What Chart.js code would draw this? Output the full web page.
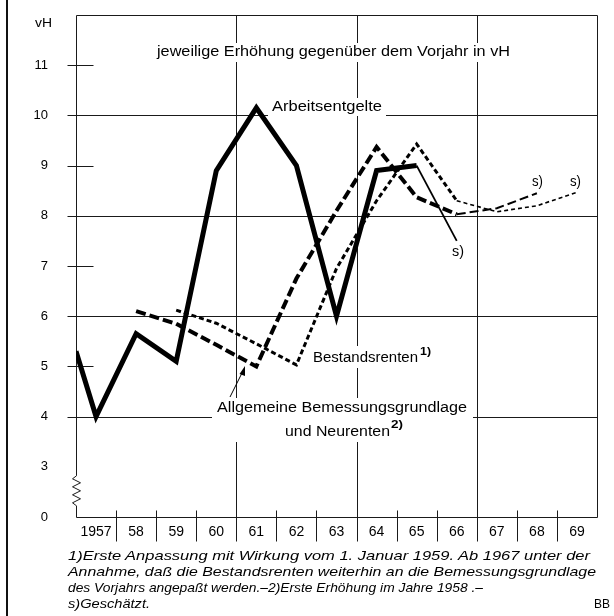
<!DOCTYPE html>
<html><head><meta charset="utf-8">
<script src="https://cdn.jsdelivr.net/npm/chart.js@4.4.1/dist/chart.umd.min.js"></script>
<style>
html,body{margin:0;padding:0;background:#fff;}
#wrap{position:relative;width:614px;height:616px;overflow:hidden;background:#fff;}
#c{position:absolute;left:0;top:0;}
#edge{position:absolute;left:6px;top:0;width:2px;height:616px;background:#111;}
.fn{position:absolute;left:68px;white-space:nowrap;font:italic 13px "Liberation Sans",Arial,sans-serif;line-height:16px;color:#000;transform-origin:0 50%;}
#bb{position:absolute;left:594px;top:597px;font:12px "Liberation Sans",Arial,sans-serif;color:#000;}
</style></head><body>
<div id="wrap">
<canvas id="c" width="614" height="616"></canvas>
<div id="edge"></div>
<div class="fn" data-w="522" style="top:548px">1)Erste Anpassung mit Wirkung vom 1. Januar 1959. Ab 1967 unter der</div>
<div class="fn" data-w="528" style="top:564px">Annahme, daß die Bestandsrenten weiterhin an die Bemessungsgrundlage</div>
<div class="fn" data-w="415" style="top:580px">des Vorjahrs angepaßt werden.–2)Erste Erhöhung im Jahre 1958 .–</div>
<div class="fn" data-w="82" style="top:596px">s)Geschätzt.</div>
<div id="bb">BB</div>
</div>
<script>
// ---- data ----
const years = [1957,1958,1959,1960,1961,1962,1963,1964,1965,1966,1967,1968,1969];
const yearLabels = ['1957','58','59','60','61','62','63','64','65','66','67','68','69'];
const arbeitX = [1956.5,1957,1958,1959,1960,1961,1962,1963,1964,1965,1966];
const arbeitsentgelte = [5.3,4.0,5.65,5.1,8.9,10.15,9.0,6.0,8.9,9.0,7.5];
const bemessungX = [1958,1959,1960,1961,1962,1963,1964,1965,1966,1967,1968];
const bemessung = [6.1,5.85,5.43,5.0,6.75,8.1,9.37,8.37,8.03,8.15,8.45];
const bestandX = [1959,1960,1961,1962,1963,1964,1965,1966,1967,1968,1969];
const bestandsrenten = [6.12,5.86,5.45,5.03,6.95,8.3,9.43,8.3,8.08,8.2,8.47];
const estimatedFrom = {arbeit:1965, bemessung:1966, bestand:1966};
const yTickValues = [2,3,4,5,6,7,8,9,10,11];
const yTickLabels = ['0','3','4','5','6','7','8','9','10','11'];
const gridY = [4,6,8,10];
const shortTickY = [5,7,9,11];
const gridX = [1960.5,1963.5,1966.5];
const separatorX = [1957.5,1958.5,1959.5,1960.5,1961.5,1962.5,1963.5,1964.5,1965.5,1966.5,1967.5,1968.5];
const X_MIN = 1956.5, X_MAX = 1969.5, Y_MIN = 2, Y_MAX = 12;

const FAM = '"Liberation Sans", Arial, sans-serif';
function fitText(ctx, text, x, y, width, size, style) {
  ctx.font = (style||'') + ' ' + size + 'px ' + FAM;
  const w = ctx.measureText(text).width;
  ctx.save();
  ctx.translate(x, y);
  ctx.scale(width / w, 1);
  ctx.textAlign = 'left';
  ctx.textBaseline = 'middle';
  ctx.fillStyle = '#000';
  ctx.fillText(text, 0, 0);
  ctx.restore();
}
const c5 = v => Math.round(v) + 0.5;
function line(ctx, x1, y1, x2, y2) {
  ctx.beginPath(); ctx.moveTo(x1, y1); ctx.lineTo(x2, y2); ctx.stroke();
}
function whiteBox(ctx, x, y, w, h) { ctx.fillStyle = '#fff'; ctx.fillRect(x, y, w, h); }

const framePlugin = {
  id: 'frame',
  beforeDatasetsDraw(chart) {
    const ctx = chart.ctx, xs = chart.scales.x, ys = chart.scales.y;
    const X = v => xs.getPixelForValue(v), Y = v => ys.getPixelForValue(v);
    const L = c5(X(X_MIN)), R = c5(X(X_MAX)), T = c5(Y(Y_MAX)), B = c5(Y(Y_MIN));
    ctx.save();
    ctx.strokeStyle = '#1a1a1a'; ctx.lineWidth = 1;
    gridY.forEach(v => line(ctx, L - 9, c5(Y(v)), R, c5(Y(v))));
    shortTickY.forEach(v => line(ctx, L - 9, c5(Y(v)), L + 17, c5(Y(v))));
    line(ctx, L, T, R, T);
    gridX.forEach(v => line(ctx, c5(X(v)), T, c5(X(v)), B));
    line(ctx, R, T, R, B);
    line(ctx, L, B, R, B);
    separatorX.forEach(v => line(ctx, c5(X(v)), B - 7, c5(X(v)), B + 24));
    // left axis with break
    const y3 = Y(3);
    ctx.beginPath();
    ctx.moveTo(L, T); ctx.lineTo(L, y3 + 9);
    const zz = [[-4,3],[4,7],[-4,11],[4,15],[-4,19],[4,23],[-4,27],[0,30]];
    zz.forEach(p => ctx.lineTo(L + p[0], y3 + 9 + p[1]));
    ctx.lineTo(L, B);
    ctx.stroke();
    // labels with white background
    whiteBox(ctx, 152, 43, 364, 19);
    fitText(ctx, 'jeweilige Erhöhung gegenüber dem Vorjahr in vH', 157, 52, 353, 14);
    whiteBox(ctx, 268, 98, 118, 18);
    fitText(ctx, 'Arbeitsentgelte', 272, 107, 110, 14);
    whiteBox(ctx, 309, 346, 126, 22);
    fitText(ctx, 'Bestandsrenten', 313, 358, 105, 14);
    fitText(ctx, '1)', 420, 352, 11, 10, 'bold');
    whiteBox(ctx, 212, 398, 261, 44);
    fitText(ctx, 'Allgemeine Bemessungsgrundlage', 217, 408, 250, 14);
    fitText(ctx, 'und Neurenten', 285, 432, 105, 14);
    fitText(ctx, '2)', 391, 425, 12, 10, 'bold');
    // vH
    fitText(ctx, 'vH', 35, 23, 17, 13);
    ctx.restore();
  },
  afterDatasetsDraw(chart) {
    const ctx = chart.ctx;
    ctx.save();
    fitText(ctx, 's)', 452, 252, 12, 14);
    fitText(ctx, 's)', 532, 182, 11, 14);
    fitText(ctx, 's)', 570, 182, 11, 14);
    // arrow
    ctx.strokeStyle = '#000'; ctx.fillStyle = '#000'; ctx.lineWidth = 1;
    line(ctx, 230, 397, 243, 371);
    ctx.beginPath();
    ctx.moveTo(245, 366); ctx.lineTo(239.5, 374); ctx.lineTo(245, 376); ctx.closePath(); ctx.fill();
    ctx.restore();
  }
};

const pts = (xs, ys) => xs.map((x, i) => ({x: x, y: ys[i]}));

new Chart(document.getElementById('c'), {
  type: 'line',
  data: { datasets: [
    { label: 'Arbeitsentgelte', data: pts(arbeitX, arbeitsentgelte),
      borderColor: '#000', borderWidth: 5, borderJoinStyle: 'miter', borderCapStyle: 'butt',
      pointRadius: 0, tension: 0, fill: false,
      segment: { borderWidth: c => c.p0.parsed.x >= estimatedFrom.arbeit ? 1.8 : 5 } },
    { label: 'Allgemeine Bemessungsgrundlage und Neurenten', data: pts(bemessungX, bemessung),
      borderColor: '#000', borderWidth: 4, borderDash: [10, 4], borderJoinStyle: 'miter', borderCapStyle: 'butt',
      pointRadius: 0, tension: 0, fill: false,
      segment: { borderWidth: c => c.p0.parsed.x >= estimatedFrom.bemessung ? 2 : 4,
                 borderDash: c => c.p0.parsed.x >= estimatedFrom.bemessung ? [9, 4] : [10, 4] } },
    { label: 'Bestandsrenten', data: pts(bestandX, bestandsrenten),
      borderColor: '#000', borderWidth: 3, borderDash: [5, 3], borderJoinStyle: 'miter', borderCapStyle: 'butt',
      pointRadius: 0, tension: 0, fill: false,
      segment: { borderWidth: c => c.p0.parsed.x >= estimatedFrom.bestand ? 1.6 : 3,
                 borderDash: c => c.p0.parsed.x >= estimatedFrom.bestand ? [4, 3] : [5, 3] } }
  ]},
  options: {
    responsive: false, animation: false, devicePixelRatio: 1,
    layout: { padding: { top: 15, right: 17, left: 0, bottom: 0 } },
    plugins: { legend: { display: false }, tooltip: { enabled: false } },
    scales: {
      x: { type: 'linear', min: X_MIN, max: X_MAX,
        grid: { display: false, drawTicks: false }, border: { display: false },
        afterBuildTicks: s => { s.ticks = years.map(v => ({value: v})); },
        afterFit: s => { s.height = 99; s.paddingLeft = 0; s.paddingRight = 0; },
        ticks: { autoSkip: false, maxRotation: 0, padding: 7, color: '#000',
          font: { family: FAM, size: 14 },
          callback: v => { const i = years.indexOf(v); return i >= 0 ? yearLabels[i] : ''; } } },
      y: { type: 'linear', min: Y_MIN, max: Y_MAX,
        grid: { display: false, drawTicks: false }, border: { display: false },
        afterBuildTicks: s => { s.ticks = yTickValues.map(v => ({value: v})); },
        afterFit: s => { s.width = 76; s.paddingTop = 0; s.paddingBottom = 0; },
        ticks: { padding: 28, color: '#000', font: { family: FAM, size: 13 },
          callback: v => { const i = yTickValues.indexOf(v); return i >= 0 ? yTickLabels[i] : ''; } } }
    }
  },
  plugins: [framePlugin]
});

document.querySelectorAll('.fn').forEach(el => {
  const w = el.getBoundingClientRect().width;
  el.style.transform = 'scaleX(' + (parseFloat(el.dataset.w) / w) + ')';
});
</script>
</body></html>
